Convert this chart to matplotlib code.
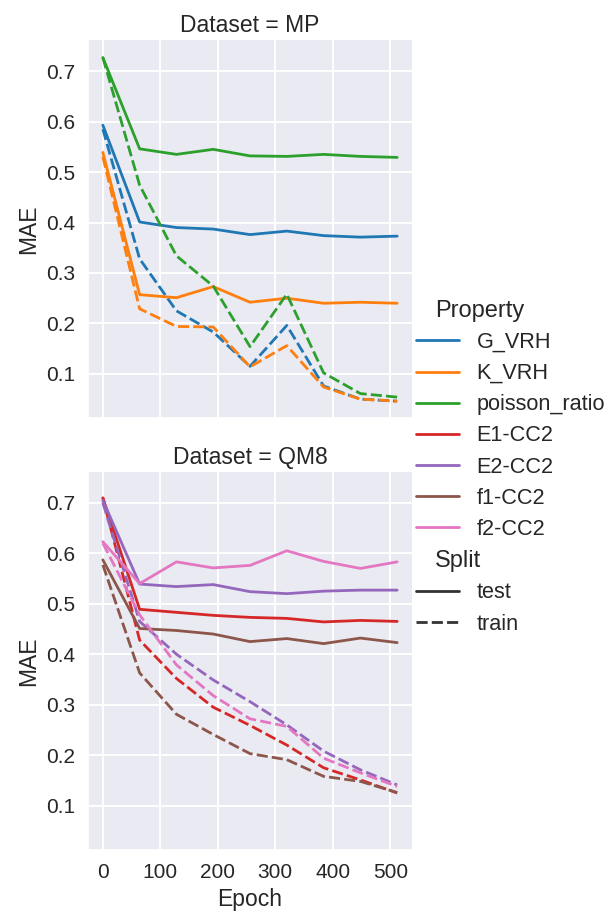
import pandas as pd
import seaborn as sns
import matplotlib
matplotlib.use("Agg")
import matplotlib.pyplot as plt

epochs = [0, 64, 128, 192, 256, 320, 384, 448, 512]

# MP properties: test / train MAE per epoch
g_vrh_test = [0.593, 0.401, 0.390, 0.387, 0.376, 0.383, 0.374, 0.371, 0.373]
g_vrh_train = [0.585, 0.328, 0.225, 0.183, 0.115, 0.196, 0.076, 0.050, 0.046]
k_vrh_test = [0.539, 0.257, 0.251, 0.273, 0.242, 0.250, 0.240, 0.242, 0.240]
k_vrh_train = [0.530, 0.229, 0.194, 0.193, 0.114, 0.156, 0.074, 0.050, 0.046]
poisson_test = [0.727, 0.546, 0.535, 0.545, 0.532, 0.531, 0.535, 0.531, 0.529]
poisson_train = [0.727, 0.474, 0.334, 0.274, 0.154, 0.258, 0.102, 0.061, 0.054]

# QM8 properties
e1_test = [0.710, 0.489, 0.483, 0.477, 0.473, 0.471, 0.464, 0.467, 0.465]
e1_train = [0.710, 0.428, 0.352, 0.295, 0.259, 0.220, 0.175, 0.151, 0.125]
e2_test = [0.705, 0.539, 0.534, 0.538, 0.524, 0.520, 0.525, 0.527, 0.527]
e2_train = [0.700, 0.465, 0.400, 0.349, 0.306, 0.260, 0.208, 0.171, 0.141]
f1_test = [0.587, 0.451, 0.447, 0.440, 0.425, 0.431, 0.421, 0.432, 0.423]
f1_train = [0.577, 0.363, 0.281, 0.241, 0.203, 0.191, 0.158, 0.148, 0.126]
f2_test = [0.623, 0.540, 0.583, 0.571, 0.576, 0.605, 0.584, 0.570, 0.583]
f2_train = [0.620, 0.478, 0.379, 0.318, 0.272, 0.257, 0.194, 0.165, 0.138]

epoch_ticks = [0, 100, 200, 300, 400, 500]

series = [
    ("MP", "G_VRH", "test", g_vrh_test), ("MP", "G_VRH", "train", g_vrh_train),
    ("MP", "K_VRH", "test", k_vrh_test), ("MP", "K_VRH", "train", k_vrh_train),
    ("MP", "poisson_ratio", "test", poisson_test), ("MP", "poisson_ratio", "train", poisson_train),
    ("QM8", "E1-CC2", "test", e1_test), ("QM8", "E1-CC2", "train", e1_train),
    ("QM8", "E2-CC2", "test", e2_test), ("QM8", "E2-CC2", "train", e2_train),
    ("QM8", "f1-CC2", "test", f1_test), ("QM8", "f1-CC2", "train", f1_train),
    ("QM8", "f2-CC2", "test", f2_test), ("QM8", "f2-CC2", "train", f2_train),
]

rows = []
for dataset, prop, split, vals in series:
    for ep, v in zip(epochs, vals):
        rows.append({"Dataset": dataset, "Property": prop, "Split": split,
                     "Epoch": ep, "MAE": v})
df = pd.DataFrame(rows)

sns.set_theme(style="darkgrid")
plt.rcParams["font.family"] = ["Liberation Sans", "DejaVu Sans"]
plt.rcParams.update({
    "axes.titlesize": 17.7,
    "axes.labelsize": 16.5,
    "xtick.labelsize": 15,
    "ytick.labelsize": 15,
    "legend.fontsize": 15.6,
    "legend.title_fontsize": 17,
    "lines.linewidth": 2,
    "grid.linewidth": 1.4,
})

hue_order = ["G_VRH", "K_VRH", "poisson_ratio", "E1-CC2", "E2-CC2", "f1-CC2", "f2-CC2"]

g = sns.relplot(data=df, x="Epoch", y="MAE", row="Dataset", hue="Property",
                style="Split", kind="line", palette="tab10", hue_order=hue_order,
                style_order=["test", "train"], height=4, aspect=0.85)
g.set(xticks=epoch_ticks)

g.fig.set_size_inches(6.12, 9.16)
g.fig.subplots_adjust(left=0.144, right=0.673, top=0.956, bottom=0.072, hspace=0.142)
sns.move_legend(g, "center left", bbox_to_anchor=(0.648, 0.49), frameon=False,
                handletextpad=0.8, labelspacing=0.47)

# pull the group headings left, under the handle column
for txt in g.legend.get_texts():
    if txt.get_text() in ("Property", "Split"):
        txt.set_fontsize(17)
        txt.set_position((-42, 0))

g.fig.savefig("out.png", dpi=100)
